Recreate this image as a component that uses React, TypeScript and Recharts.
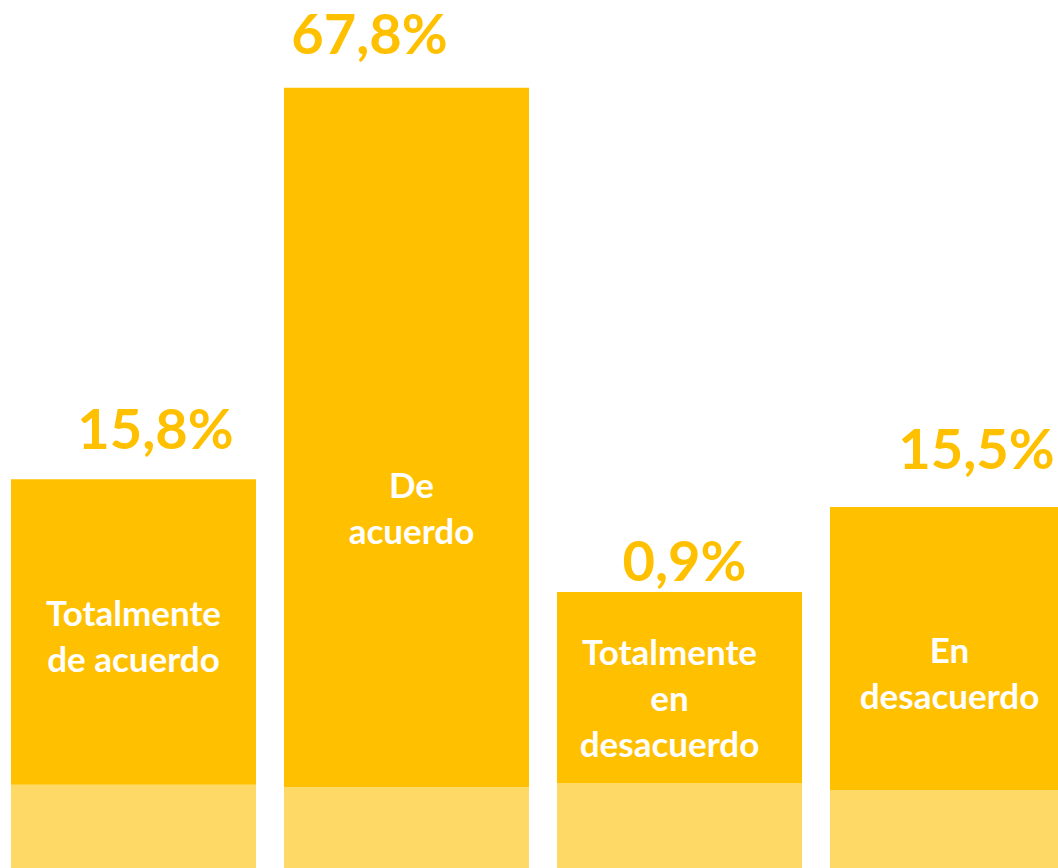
import { BarChart, Bar, XAxis, YAxis, LabelList } from 'recharts'

// categories (line breaks as shown inside the bars)
const categories = ['Totalmente de acuerdo', 'De acuerdo', 'Totalmente en desacuerdo', 'En desacuerdo']
const categoryLines = [['Totalmente', 'de acuerdo'], ['De', 'acuerdo'], ['Totalmente', 'en', 'desacuerdo'], ['En', 'desacuerdo']]
const percentLabels = ['15,8%', '67,8%', '0,9%', '15,5%']

// bar heights as drawn (0-100 of the chart height), split into pale base + strong top
const baseHeight = [9.6, 9.3, 9.8, 9.0]
const topHeight = [35.2, 80.6, 22.0, 32.6]

// label placement relative to each bar's top edge
const pctOffset = [{ dx: 22, dy: -30 }, { dx: -37, dy: -34 }, { dx: 5, dy: -11 }, { dx: 24, dy: -38 }]
const nameOffset = [{ dx: 0, dy: 147 }, { dx: 5, dy: 410 }, { dx: -10, dy: 73 }, { dx: -3, dy: 156 }]

const GOLD = '#FFC000'
const PALE = '#FFD966'
const FONT = 'Lato, "Open Sans", sans-serif'

const data = categories.map((name, i) => ({ name, base: baseHeight[i], top: topHeight[i] }))

function BarLabels(props: any) {
  const { x, y, width, index } = props
  const cx = x + width / 2
  const p = pctOffset[index]
  const n = nameOffset[index]
  return (
    <g>
      <text x={cx + p.dx} y={y + p.dy} textAnchor="middle" fill={GOLD} fontSize={56} fontWeight={700} fontFamily={FONT}>
        {percentLabels[index]}
      </text>
      {categoryLines[index].map((line, k) => (
        <text key={k} x={cx + n.dx} y={y + n.dy + k * 46} textAnchor="middle" fill="#fff" fontSize={35} fontWeight={700} fontFamily={FONT}>
          {line}
        </text>
      ))}
    </g>
  )
}

export default function App() {
  return (
    <div style={{ position: 'absolute', left: 0, top: 0, width: 1058, height: 868, overflow: 'hidden', background: '#fff' }}>
      <div style={{ marginLeft: -3 }}>
        <BarChart width={1092} height={868} data={data} margin={{ top: 0, right: 0, left: 0, bottom: 0 }} barSize={245}>
          <XAxis dataKey="name" hide />
          <YAxis hide domain={[0, 100]} />
          <Bar dataKey="base" stackId="a" fill={PALE} isAnimationActive={false} />
          <Bar dataKey="top" stackId="a" fill={GOLD} isAnimationActive={false}>
            <LabelList dataKey="top" content={BarLabels} />
          </Bar>
        </BarChart>
      </div>
    </div>
  )
}
